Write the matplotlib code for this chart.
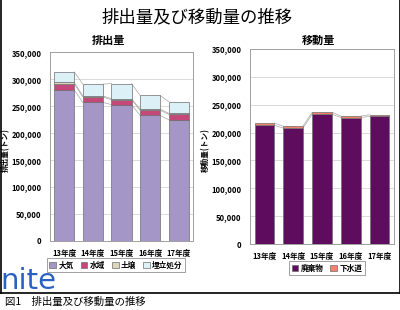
import numpy as np
import matplotlib.pyplot as plt
from matplotlib.lines import Line2D
from matplotlib.ticker import FuncFormatter, MultipleLocator

plt.rcParams["font.family"] = ["Noto Sans CJK JP", "DejaVu Sans"]

# data (tons)
years = ["13年度", "14年度", "15年度", "16年度", "17年度"]
air = [280000, 257000, 253000, 233000, 225000]
water = [11000, 10000, 9000, 9500, 10000]
soil = [3000, 2000, 2000, 2000, 2000]
landfill = [19500, 22000, 28000, 25500, 21500]
waste = [213000, 208000, 233000, 227000, 229000]
sewer = [4000, 3500, 3500, 2500, 3000]

fig = plt.figure(figsize=(4.0, 3.1), dpi=100)
fmt = FuncFormatter(lambda v, p: f"{int(v):,}")


def stacked(ax, series, colors, labels, width):
    x = np.arange(len(years))
    bottom = np.zeros(len(years))
    tops = []
    for vals, c, lab in zip(series, colors, labels):
        ax.bar(x, vals, width, bottom=bottom, color=c, edgecolor="#6e6e6e",
               linewidth=0.5, label=lab, zorder=3)
        bottom = bottom + np.array(vals)
        tops.append(bottom.copy())
    # series lines between bars
    for t in tops:
        for i in range(len(years) - 1):
            ax.plot([i + width / 2, i + 1 - width / 2], [t[i], t[i + 1]],
                    color="#a8a8a8", lw=0.5, zorder=2)
    ax.set_xlim(-0.5, len(years) - 0.5)
    ax.set_ylim(0, 350000)
    ax.yaxis.set_major_locator(MultipleLocator(50000))
    ax.yaxis.set_major_formatter(fmt)
    ax.set_xticks(x)
    ax.set_xticklabels(years)
    ax.grid(axis="y", color="#d4d4d4", lw=0.6, zorder=0)
    for s in ax.spines.values():
        s.set_color("#a0a0a0")
        s.set_linewidth(0.7)
    ax.tick_params(axis="both", labelsize=5.5, length=0, pad=6)
    for lbl in ax.get_xticklabels() + ax.get_yticklabels():
        lbl.set_fontweight("bold")


ax1 = fig.add_axes([0.125, 0.2226, 0.3575, 0.6087])
stacked(ax1, [air, water, soil, landfill],
        ["#a596c8", "#c4497a", "#ddd6bc", "#dcf0f8"],
        ["大気", "水域", "土壌", "埋立処分"], 0.7)

ax2 = fig.add_axes([0.625, 0.2129, 0.36, 0.629])
stacked(ax2, [waste, sewer], ["#5e0c5e", "#f4806e"], ["廃棄物", "下水道"], 0.68)

legkw = dict(loc="center", bbox_transform=fig.transFigure, ncol=4, fontsize=5.5,
             handlelength=0.9, handleheight=0.9, handletextpad=0.3,
             columnspacing=0.9, borderpad=0.35, fancybox=False,
             edgecolor="#909090", framealpha=1)
leg1 = ax1.legend(bbox_to_anchor=(116 / 400, 1 - 265 / 310), **legkw)
leg2 = ax2.legend(bbox_to_anchor=(327 / 400, 1 - 268 / 310), **legkw)
leg1.get_frame().set_linewidth(0.6)
leg2.get_frame().set_linewidth(0.6)
for lg in (leg1, leg2):
    for t in lg.get_texts():
        t.set_fontweight("bold")

fig.text(197.5 / 400, 1 - 17.5 / 310, "排出量及び移動量の推移", ha="center",
         va="center", fontsize=12.5)
fig.text(108 / 400, 1 - 40.5 / 310, "排出量", ha="center", va="center",
         fontsize=8, fontweight="bold")
fig.text(319 / 400, 1 - 40.5 / 310, "移動量", ha="center", va="center",
         fontsize=8, fontweight="bold")
fig.text(6 / 400, 1 - 150 / 310, "排出量(トン)", rotation=90, ha="center",
         va="center", fontsize=5.5, fontweight="bold")
fig.text(206 / 400, 1 - 150 / 310, "移動量(トン)", rotation=90, ha="center",
         va="center", fontsize=5.5, fontweight="bold")

fig.text(0 / 400, 1 - 281 / 310, "nite", ha="left", va="center", fontsize=21,
         color="#2a62c4", family="DejaVu Sans")
fig.text(5 / 400, 1 - 302 / 310, "図1　排出量及び移動量の推移", ha="left",
         va="center", fontsize=7.5)

# outer frame
yb = 1 - 293 / 310
for xs, ys in [([0, 1], [yb, yb]), ([0.5 / 400, 0.5 / 400], [yb, 1]),
               ([399.5 / 400, 399.5 / 400], [yb, 1])]:
    fig.add_artist(Line2D(xs, ys, color="black", lw=1.2,
                          transform=fig.transFigure))

fig.savefig("out.png", dpi=100)
